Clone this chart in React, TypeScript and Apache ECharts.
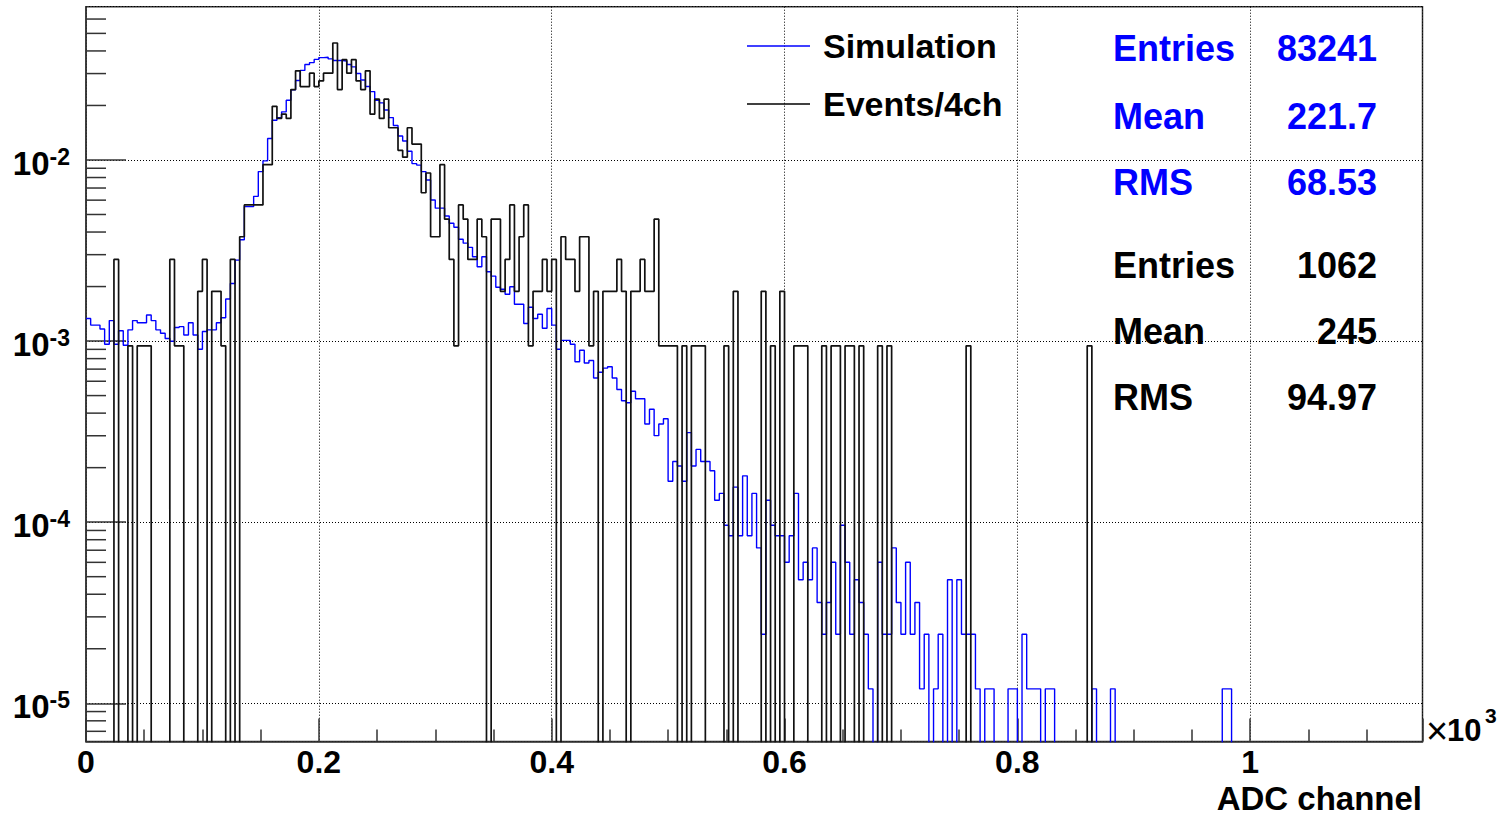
import React, { useEffect, useRef } from "react";
import * as echarts from "echarts";

// ---- data (counts per 4-channel bin) ----
const BIN_WIDTH = 4; // ADC channels per bin
const X_MAX = 1148; // ADC channels
const Y_MIN = 6.15e-6;
const Y_MAX = 0.0702;
const ZERO_FLOOR = 1e-9; // empty bins drop below the log axis

const simEntries = 83241;
const dataEntries = 1062;

const simulationCounts = [
  111, 102, 102, 97, 80, 108, 80, 95, 79, 96,
  108, 105, 105, 116, 108, 96, 92, 86, 83, 99,
  100, 90, 105, 90, 75, 94, 96, 96, 105, 112,
  142, 173, 233, 302, 460, 460, 524, 718, 823, 1093,
  1380, 1427, 1535, 1778, 2030, 2285, 2600, 2800, 2870, 2990,
  3060, 3070, 3010, 2950, 2950, 2930, 2800, 2720, 2500, 2300,
  2120, 1985, 1780, 1720, 1570, 1427, 1290, 1130, 1060, 930,
  795, 780, 718, 645, 500, 451, 451, 408, 372, 354,
  304, 289, 274, 243, 214, 243, 201, 190, 165, 161,
  151, 166, 133, 133, 104, 128, 111, 117, 98, 126,
  102, 75, 84, 84, 80, 64, 74, 63, 65, 52,
  56, 59, 60, 52, 45, 39, 38, 44, 40, 40,
  29, 35, 25, 29, 31, 14, 18, 17, 14, 26,
  17, 21, 18, 18, 16, 11, 12, 8, 7, 13,
  7, 15, 7, 12, 6, 2, 11, 8, 7, 7,
  5, 7, 12, 4, 5, 4, 6, 3, 2, 3,
  5, 2, 8, 5, 2, 4, 3, 2, 1, 0,
  5, 2, 2, 6, 3, 2, 5, 2, 3, 1,
  2, 0, 1, 2, 0, 4, 0, 4, 2, 2,
  2, 1, 0, 1, 1, 0, 0, 0, 1, 1,
  0, 2, 1, 1, 1, 0, 1, 1, 0, 0,
  0, 0, 0, 0, 0, 0, 1, 0, 0, 0,
  1, 0, 0, 0, 0, 0, 0, 0, 0, 0,
  0, 0, 0, 0, 0, 0, 0, 0, 0, 0,
  0, 0, 0, 0, 1, 1, 0, 0, 0, 0,
  0, 0, 0, 0, 0, 0, 0, 0, 0, 0,
  0, 0, 0, 0, 0, 0, 0, 0, 0, 0,
  0, 0, 0, 0, 0, 0, 0, 0, 0, 0,
  0, 0, 0, 0, 0, 0, 0,
];

const eventCounts = [
  0, 0, 0, 0, 0, 0, 3, 0, 0, 1,
  0, 1, 1, 1, 0, 0, 0, 0, 3, 1,
  1, 0, 0, 0, 2, 3, 0, 2, 2, 1,
  0, 3, 0, 4, 6, 6, 6, 6, 10, 10,
  21, 18, 19, 18, 26, 33, 27, 27, 32, 27,
  29, 32, 32, 47, 26, 38, 32, 38, 29, 26,
  33, 19, 23, 18, 23, 16, 16, 12, 11, 16,
  13, 13, 7, 9, 4, 4, 10, 5, 3, 1,
  6, 5, 3, 3, 5, 4, 0, 5, 5, 2,
  3, 6, 2, 4, 6, 1, 2, 2, 3, 2,
  3, 0, 4, 3, 3, 2, 4, 4, 1, 2,
  0, 2, 2, 2, 3, 2, 0, 2, 2, 3,
  2, 2, 5, 1, 1, 1, 1, 0, 1, 0,
  1, 1, 1, 0, 0, 0, 0, 1, 0, 2,
  0, 0, 0, 0, 0, 2, 0, 1, 0, 2,
  0, 0, 1, 1, 1, 0, 0, 0, 1, 0,
  1, 1, 0, 1, 1, 0, 1, 0, 0, 0,
  1, 0, 1, 0, 0, 0, 0, 0, 0, 0,
  0, 0, 0, 0, 0, 0, 0, 0, 0, 1,
  0, 0, 0, 0, 0, 0, 0, 0, 0, 0,
  0, 0, 0, 0, 0, 0, 0, 0, 0, 0,
  0, 0, 0, 0, 0, 1, 0, 0, 0, 0,
  0, 0, 0, 0, 0, 0, 0, 0, 0, 0,
  0, 0, 0, 0, 0, 0, 0, 0, 0, 0,
  0, 0, 0, 0, 0, 0, 0, 0, 0, 0,
  0, 0, 0, 0, 0, 0, 0, 0, 0, 0,
  0, 0, 0, 0, 0, 0, 0, 0, 0, 0,
  0, 0, 0, 0, 0, 0, 0, 0, 0, 0,
  0, 0, 0, 0, 0, 0, 0,
];

const seriesNames = ["Simulation", "Events/4ch"];
const simStats = [
  ["Entries", "83241"],
  ["Mean", "221.7"],
  ["RMS", "68.53"],
];
const dataStats = [
  ["Entries", "1062"],
  ["Mean", "245"],
  ["RMS", "94.97"],
];
const xAxisTitle = "ADC channel";

// ---- helpers ----
const FONT = "'Liberation Sans', Arial, Helvetica, sans-serif";

function toHistogram(counts: number[], entries: number) {
  const pts: [number, number][] = counts.map((c, i) => [
    i * BIN_WIDTH,
    c > 0 ? c / entries : ZERO_FLOOR,
  ]);
  pts.push([counts.length * BIN_WIDTH, pts[pts.length - 1][1]]);
  return pts;
}

function logMinorTicks(): number[] {
  const out: number[] = [];
  for (let e = -6; e <= -2; e++) {
    for (let m = 2; m <= 9; m++) {
      const v = m * Math.pow(10, e);
      if (v > Y_MIN && v < Y_MAX * 0.99) out.push(v);
    }
  }
  return out;
}

const FRAME = "#333";

function txt(
  x: number,
  y: number,
  text: string,
  size: number,
  color: string,
  align: string,
  weight: string = "bold",
  lineHeight?: number
) {
  return {
    type: "text",
    x,
    y,
    silent: true,
    style: {
      text,
      fill: color,
      fontSize: size,
      fontWeight: weight,
      fontFamily: FONT,
      lineHeight: lineHeight ?? size,
      align,
      textAlign: align,
      verticalAlign: "middle",
      textVerticalAlign: "middle",
    },
  };
}

function buildOption() {
  const statText = (rows: string[][], ys: number[], color: string): any[] =>
    rows.flatMap((row, k) => [
      txt(1113, ys[k], row[0], 36, color, "left"),
      txt(1377, ys[k], row[1], 36, color, "right"),
    ]);

  return {
    animation: false,
    backgroundColor: "#ffffff",
    textStyle: { fontFamily: FONT },
    grid: {
      left: 86,
      right: 83.5,
      top: 6.7,
      bottom: 75.5,
      show: true,
      borderColor: FRAME,
      borderWidth: 1.5,
      backgroundColor: "transparent",
    },
    legend: {
      orient: "vertical",
      left: 747,
      top: 29,
      padding: 0,
      itemGap: 24,
      itemWidth: 63,
      itemHeight: 1.5,
      icon: "rect",
      selectedMode: false,
      data: seriesNames,
      textStyle: {
        fontSize: 34,
        fontWeight: "bold",
        color: "#000",
        fontFamily: FONT,
        lineHeight: 34,
        padding: [0, 0, 0, 8],
      },
    },
    xAxis: {
      type: "value",
      min: 0,
      max: X_MAX,
      interval: 200,
      axisLine: { lineStyle: { color: FRAME, width: 1.5 } },
      axisTick: { inside: true, length: 23, lineStyle: { color: FRAME, width: 1.5 } },
      minorTick: {
        show: true,
        splitNumber: 4,
        length: 12,
        lineStyle: { color: FRAME, width: 1.5 },
      },
      axisLabel: {
        margin: 4.5,
        fontSize: 32,
        lineHeight: 32,
        fontWeight: "bold",
        color: "#000",
        fontFamily: FONT,
        showMaxLabel: false,
        formatter: (v: number) => String(v / 1000),
      },
      splitLine: {
        show: true,
        lineStyle: { color: "#000", type: [1, 2], width: 1 },
      },
    },
    yAxis: {
      type: "log",
      logBase: 10,
      min: Y_MIN,
      max: Y_MAX,
      axisLine: { lineStyle: { color: FRAME, width: 1.5 } },
      axisTick: { inside: true, length: 40, lineStyle: { color: FRAME, width: 1.5 } },
      axisLabel: {
        margin: 16,
        showMinLabel: false,
        showMaxLabel: false,
        color: "#000",
        formatter: (v: number) => `{b|10}{s|${Math.round(Math.log10(v))}}`,
        rich: {
          b: {
            fontSize: 33,
            lineHeight: 33,
            fontWeight: "bold",
            fontFamily: FONT,
            color: "#000",
            padding: [7, 0, 0, 0],
          },
          s: {
            fontSize: 23,
            lineHeight: 23,
            fontWeight: "bold",
            fontFamily: FONT,
            color: "#000",
            padding: [0, 0, 6, 0],
          },
        },
      },
      splitLine: {
        show: true,
        lineStyle: { color: "#000", type: [1, 2], width: 1 },
      },
    },
    series: [
      {
        name: seriesNames[0],
        type: "line",
        step: "end",
        data: toHistogram(simulationCounts, simEntries),
        symbol: "none",
        showSymbol: false,
        color: "#0000ff",
        itemStyle: { color: "#0000ff" },
        lineStyle: { color: "#0000ff", width: 1.4 },
        clip: true,
        silent: true,
        z: 2,
      },
      {
        name: seriesNames[1],
        type: "line",
        step: "end",
        data: toHistogram(eventCounts, dataEntries),
        symbol: "none",
        showSymbol: false,
        color: "#000000",
        itemStyle: { color: "#000000" },
        lineStyle: { color: "#111111", width: 1.7 },
        clip: true,
        silent: true,
        z: 3,
      },
      {
        name: "yMinorTicks",
        type: "custom",
        silent: true,
        z: 4,
        clip: false,
        data: logMinorTicks().map((v) => [0, v]),
        renderItem: (_params: any, api: any) => {
          const p = api.coord([0, api.value(1)]);
          return {
            type: "line",
            shape: { x1: p[0], y1: p[1], x2: p[0] + 20, y2: p[1] },
            style: { stroke: FRAME, lineWidth: 1.5 },
          };
        },
      },
    ],
    graphic: [
      ...statText(simStats, [48, 116, 182], "#0000ff"),
      ...statText(dataStats, [265, 331, 397], "#000000"),
      txt(1422, 798.5, xAxisTitle, 33, "#000", "right", "bold", 26),
      txt(1426, 731, "×", 38, "#000", "left", "normal", 28),
      txt(1447, 730.5, "10", 31, "#000", "left", "bold", 26),
      txt(1485, 715.5, "3", 21, "#000", "left", "bold", 20),
    ],
  };
}

export default function App() {
  const ref = useRef<HTMLDivElement>(null);
  useEffect(() => {
    if (!ref.current) return;
    const chart = echarts.init(ref.current, null, { renderer: "svg" });
    chart.setOption(buildOption() as any);
    return () => chart.dispose();
  }, []);
  return (
    <div
      ref={ref}
      style={{
        position: "absolute",
        left: 0,
        top: 0,
        width: 1506,
        height: 817,
        background: "#fff",
      }}
    />
  );
}
